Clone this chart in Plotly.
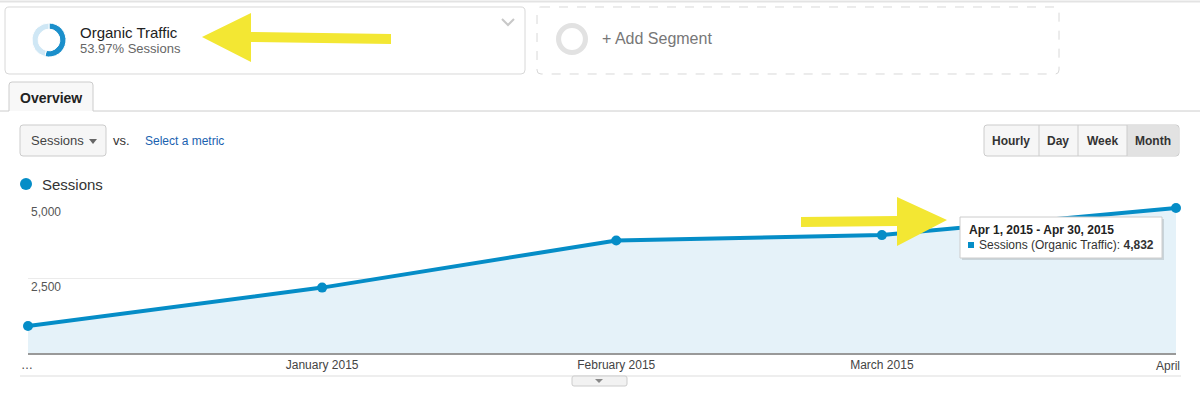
import plotly.graph_objects as go

# ---- data ----
months = ["2014-12-01", "2015-01-01", "2015-02-01", "2015-03-01", "2015-04-01"]
sessions = [900, 2180, 3750, 3930, 4832]
tick_dates = ["2015-01-01", "2015-02-01", "2015-03-01"]
tick_labels = ["January 2015", "February 2015", "March 2015"]
edge_labels = ["…", "April"]
y_ticks = [2500, 5000]
y_tick_labels = ["2,500", "5,000"]
segment_share = [53.97, 46.03]

W, H = 1200, 399
FONT = "Liberation Sans, Arial, sans-serif"
BLUE = "#058dc7"


def X(px):
    return px / W


def Y(py):
    return 1 - py / H


def path(points, close=True):
    s = "M " + " L ".join(f"{X(a):.5f},{Y(b):.5f}" for a, b in points)
    return s + (" Z" if close else "")


def rrect(x0, y0, x1, y1, r):
    pts = [
        ("M", (x0 + r, y0)), ("L", (x1 - r, y0)), ("Q", (x1, y0), (x1, y0 + r)),
        ("L", (x1, y1 - r)), ("Q", (x1, y1), (x1 - r, y1)),
        ("L", (x0 + r, y1)), ("Q", (x0, y1), (x0, y1 - r)),
        ("L", (x0, y0 + r)), ("Q", (x0, y0), (x0 + r, y0)),
    ]
    s = ""
    for p in pts:
        coords = " ".join(f"{X(a):.5f},{Y(b):.5f}" for a, b in p[1:])
        s += f"{p[0]} {coords} "
    return s + "Z"


fig = go.Figure()

fig.add_trace(go.Scatter(
    x=months, y=sessions, mode="lines+markers",
    line=dict(color=BLUE, width=4),
    marker=dict(color=BLUE, size=10),
    fill="tozeroy", fillcolor="#e5f2f9",
    hoverinfo="skip", showlegend=False, cliponaxis=False,
))

# donut icons
fig.add_trace(go.Pie(
    values=segment_share, sort=False, direction="clockwise", rotation=0,
    hole=0.64, textinfo="none", hoverinfo="skip", showlegend=False,
    marker=dict(colors=["#1b8fcb", "#cfe7f5"], line=dict(color="white", width=1)),
    domain=dict(x=[X(32), X(66)], y=[Y(57), Y(23)]),
))
fig.add_trace(go.Pie(
    values=[1], sort=False, hole=0.68, textinfo="none", hoverinfo="skip",
    showlegend=False, marker=dict(colors=["#e2e2e2"], line=dict(width=0)),
    domain=dict(x=[X(556), X(588)], y=[Y(55), Y(23)]),
))

shapes = []
shapes.append(dict(type="line", xref="paper", yref="paper", x0=0, x1=1, y0=Y(1.5), y1=Y(1.5),
                   line=dict(color="#e3e3e3", width=2)))
shapes.append(dict(type="path", xref="paper", yref="paper", path=rrect(5, 7, 525, 74, 4),
                   line=dict(color="#d8d8d8", width=1), fillcolor="white", layer="below"))
shapes.append(dict(type="path", xref="paper", yref="paper",
                   path=path([(502, 19), (508, 25), (514, 19)], close=False),
                   line=dict(color="#c8c8c8", width=2)))
shapes.append(dict(type="path", xref="paper", yref="paper", path=rrect(537, 7, 1059, 74, 4),
                   line=dict(color="#d8d8d8", width=1, dash="dash"), layer="below"))
shapes.append(dict(type="line", xref="paper", yref="paper", x0=0, x1=X(9), y0=Y(111), y1=Y(111),
                   line=dict(color="#cccccc", width=1)))
shapes.append(dict(type="line", xref="paper", yref="paper", x0=X(93), x1=1, y0=Y(111), y1=Y(111),
                   line=dict(color="#cccccc", width=1)))
shapes.append(dict(type="path", xref="paper", yref="paper",
                   path=f"M {X(9)},{Y(111)} L {X(9)},{Y(85)} Q {X(9)},{Y(82)} {X(12)},{Y(82)} "
                        f"L {X(90)},{Y(82)} Q {X(93)},{Y(82)} {X(93)},{Y(85)} L {X(93)},{Y(111)}",
                   line=dict(color="#cccccc", width=1), fillcolor="#f8f8f8"))
shapes.append(dict(type="path", xref="paper", yref="paper", path=rrect(20, 125, 106, 156, 3),
                   line=dict(color="#cccccc", width=1), fillcolor="#f6f6f6"))
shapes.append(dict(type="path", xref="paper", yref="paper", path=path([(89, 139), (97, 139), (93, 144)]),
                   line=dict(width=0), fillcolor="#666666"))
shapes.append(dict(type="path", xref="paper", yref="paper", path=rrect(984, 125, 1179, 156, 3),
                   line=dict(color="#cccccc", width=1), fillcolor="#f6f6f6"))
shapes.append(dict(type="rect", xref="paper", yref="paper", x0=X(1127), x1=X(1178), y0=Y(155), y1=Y(126),
                   line=dict(width=0), fillcolor="#e2e2e2"))
for sx in (1039, 1078, 1127):
    shapes.append(dict(type="line", xref="paper", yref="paper", x0=X(sx), x1=X(sx), y0=Y(125), y1=Y(156),
                       line=dict(color="#cccccc", width=1)))
shapes.append(dict(type="circle", xref="paper", yref="paper", x0=X(20), x1=X(32), y0=Y(190), y1=Y(178),
                   line=dict(width=0), fillcolor=BLUE))
shapes.append(dict(type="line", xref="paper", yref="paper", x0=X(20), x1=X(1181), y0=Y(376), y1=Y(376),
                   line=dict(color="#dddddd", width=1)))
shapes.append(dict(type="path", xref="paper", yref="paper", path=rrect(572, 376, 627, 386, 2),
                   line=dict(color="#cccccc", width=1), fillcolor="#f2f2f2"))
shapes.append(dict(type="path", xref="paper", yref="paper", path=path([(595, 379), (603, 379), (599, 383)]),
                   line=dict(width=0), fillcolor="#888888"))
# tooltip
shapes.append(dict(type="rect", xref="paper", yref="paper", x0=X(962), x1=X(1164), y0=Y(260), y1=Y(219),
                   line=dict(width=0), fillcolor="rgba(0,0,0,0.12)", layer="above"))
shapes.append(dict(type="rect", xref="paper", yref="paper", x0=X(960), x1=X(1162), y0=Y(258), y1=Y(217),
                   line=dict(color="#cccccc", width=1), fillcolor="white", layer="above"))
shapes.append(dict(type="rect", xref="paper", yref="paper", x0=X(968), x1=X(974), y0=Y(248), y1=Y(242),
                   line=dict(width=0), fillcolor=BLUE, layer="above"))
YEL = "#f3e733"
shapes.append(dict(type="path", xref="paper", yref="paper", layer="above",
                   path=path([(202, 37), (251, 13), (251, 32), (391, 34), (391, 44), (251, 42), (251, 62)]),
                   line=dict(width=0), fillcolor=YEL))
shapes.append(dict(type="path", xref="paper", yref="paper", layer="above",
                   path=path([(947, 220), (897, 197), (897, 216), (801, 217), (801, 227), (897, 226), (897, 246)]),
                   line=dict(width=0), fillcolor=YEL))

annotations = []


def txt(x, y, s, size=12, color="#333333", anchor="left", bold=False):
    annotations.append(dict(
        xref="paper", yref="paper", x=X(x), y=Y(y), text=f"<b>{s}</b>" if bold else s,
        showarrow=False, xanchor=anchor, yanchor="middle",
        font=dict(family=FONT, size=size, color=color)))


txt(78, 32, "Organic Traffic", 15, "#222222")
txt(78, 48, "53.97% Sessions", 13, "#666666")
txt(600, 38, "+ Add Segment", 16, "#777777")
txt(51, 98, "Overview", 14, "#222222", "center", True)
txt(29, 141, "Sessions", 13, "#444444")
txt(111, 140, "vs.", 13, "#333333")
txt(143, 141, "Select a metric", 12, "#1a62b0")
txt(1011, 141, "Hourly", 12, "#333333", "center", True)
txt(1058, 141, "Day", 12, "#333333", "center", True)
txt(1102, 141, "Week", 12, "#333333", "center", True)
txt(1153, 141, "Month", 12, "#333333", "center", True)
txt(40, 185, "Sessions", 15, "#333333")
txt(967, 230, "Apr 1, 2015 - Apr 30, 2015", 12, "#222222", bold=True)
txt(977, 245, f"Sessions (Organic Traffic): <b>{sessions[-1]:,}</b>", 12, "#333333")
# edge axis labels (first and clipped last)
annotations.append(dict(xref="x", yref="paper", x=months[0], y=Y(365), text=edge_labels[0],
                        showarrow=False, xanchor="center", yanchor="middle", xshift=-1,
                        font=dict(family=FONT, size=12, color="#444444")))
annotations.append(dict(xref="x", yref="paper", x=months[-1], y=Y(366), text=edge_labels[1],
                        showarrow=False, xanchor="right", yanchor="middle", xshift=6,
                        font=dict(family=FONT, size=12, color="#444444")))

fig.update_layout(
    width=W, height=H, margin=dict(l=0, r=0, t=0, b=0),
    paper_bgcolor="white", plot_bgcolor="white",
    font=dict(family=FONT, size=12, color="#444444"),
    hovermode=False, showlegend=False,
    shapes=shapes, annotations=annotations,
    xaxis=dict(domain=[X(28), X(1176)], type="date",
               range=[months[0], months[-1]],
               tickvals=tick_dates, ticktext=tick_labels, showgrid=False, zeroline=False,
               showline=True, linecolor="#999999", linewidth=2, ticks="",
               tickfont=dict(family=FONT, size=12, color="#444444"), automargin=False),
    yaxis=dict(domain=[Y(353), Y(203)], range=[0, 5000], tickvals=y_ticks, ticktext=y_tick_labels,
               showgrid=True, gridcolor="#ebebeb", gridwidth=1, zeroline=False, showline=False,
               ticks="", ticklabelposition="inside bottom",
               tickfont=dict(family=FONT, size=12, color="#555555"), automargin=False),
)

fig.write_html("out.html", config={"displayModeBar": False},
               post_script="document.body.style.margin='0';document.body.style.overflow='hidden';")
